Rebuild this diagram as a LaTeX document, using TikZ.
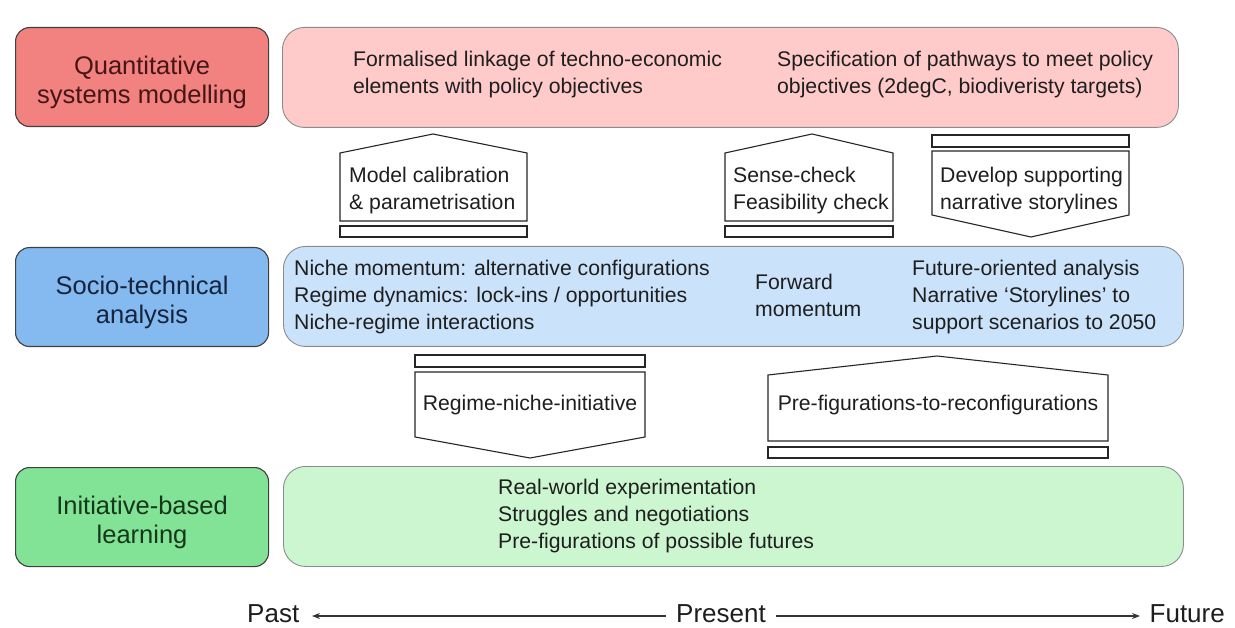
\documentclass[tikz,border=0pt]{standalone}
\usepackage{fontspec}
\setmainfont{Liberation Sans}
\usetikzlibrary{arrows.meta}
\definecolor{qsmDark}{RGB}{242,130,128}
\definecolor{qsmLight}{RGB}{255,202,202}
\definecolor{staDark}{RGB}{132,186,240}
\definecolor{staLight}{RGB}{202,226,250}
\definecolor{iblDark}{RGB}{130,226,150}
\definecolor{iblLight}{RGB}{204,246,208}
\definecolor{qsmText}{RGB}{70,22,22}
\definecolor{staText}{RGB}{22,36,62}
\definecolor{iblText}{RGB}{22,56,26}
\definecolor{bodyText}{RGB}{30,30,30}
\tikzset{
  labelbox/.style={draw=black!75, line width=1.1pt, rounded corners=14pt,
    minimum width=253pt, minimum height=99pt, anchor=north west},
  labeltext/.style={inner sep=0pt, align=center, yshift=-5pt,
    font=\fontsize{25.5}{29}\selectfont},
  widebox/.style={draw=black!45, line width=0.9pt, rounded corners=22pt,
    minimum height=100pt, anchor=north west},
  bodytext/.style={inner sep=0pt, anchor=north west, align=left,
    text=bodyText, font=\fontsize{21.2}{27}\selectfont},
  flowbox/.style={draw=black!85, line width=1.1pt, fill=white},
  timeline/.style={inner sep=0pt, text=bodyText, font=\fontsize{26}{30}\selectfont},
  timearrow/.style={draw=black!80, line width=1.2pt, -{Stealth[length=8pt,width=6pt]}}
}
\begin{document}
\begin{tikzpicture}[x=1pt, y=-1pt]
\path[use as bounding box, fill=white] (0,0) rectangle (1235,628);

% left-hand row labels
\node[labelbox, fill=qsmDark] (qsm) at (15,27) {};
\node[labeltext, text=qsmText] (qsmlabel) at (qsm.center) {Quantitative\\systems modelling};
\node[labelbox, fill=staDark] (sta) at (15,247) {};
\node[labeltext, text=staText] (stalabel) at (sta.center) {Socio-technical\\analysis};
\node[labelbox, fill=iblDark] (ibl) at (15,467) {};
\node[labeltext, text=iblText] (ibllabel) at (ibl.center) {Initiative-based\\learning};

% wide content bands
\node[widebox, fill=qsmLight, minimum width=896pt] (qsmband) at (282,27) {};
\node[widebox, fill=staLight, minimum width=900pt] (staband) at (283,246) {};
\node[widebox, fill=iblLight, minimum width=900pt] (iblband) at (283,466) {};

% modelling band text
\node[bodytext] (qsmA) at (353,47) {\strut Formalised linkage of techno-economic\\\strut elements with policy objectives};
\node[bodytext] (qsmB) at (777,47) {\strut Specification of pathways to meet policy\\\strut objectives (2degC, biodiveristy targets)};

% socio-technical band text
\node[bodytext] (staA) at (294,256) {\strut Niche momentum: alternative configurations\\\strut Regime dynamics: lock-ins / opportunities\\\strut Niche-regime interactions};
\node[bodytext] (staB) at (755,270) {\strut Forward\\\strut momentum};
\node[bodytext] (staC) at (912,256) {\strut Future-oriented analysis\\\strut Narrative `Storylines' to\\\strut support scenarios to 2050};

% learning band text
\node[bodytext] (iblA) at (498,475) {\strut Real-world experimentation\\\strut Struggles and negotiations\\\strut Pre-figurations of possible futures};

% upward exchange: model calibration
\draw[flowbox] (340,221) -- (340,153) -- (433,134) -- (527,153) -- (527,221) -- cycle;
\draw[flowbox] (340,226) rectangle (527,237);
\node[bodytext] (calib) at (349,163) {\strut Model calibration\\\strut \& parametrisation};

% upward exchange: sense-check
\draw[flowbox] (725,221) -- (725,153) -- (812,134) -- (893,153) -- (893,221) -- cycle;
\draw[flowbox] (725,226) rectangle (893,237);
\node[bodytext] (sense) at (733,163) {\strut Sense-check\\\strut Feasibility check};

% downward exchange: storylines
\draw[flowbox] (932,135) rectangle (1129,147);
\draw[flowbox] (932,151) -- (1129,151) -- (1129,215) -- (1031,237) -- (932,215) -- cycle;
\node[bodytext] (story) at (940,163) {\strut Develop supporting\\\strut narrative storylines};

% downward exchange: regime-niche-initiative
\draw[flowbox] (415,355) rectangle (645,367);
\draw[flowbox] (415,372) -- (645,372) -- (645,437) -- (530,458) -- (415,437) -- cycle;
\node[bodytext, anchor=center, align=center] (regime) at (530,405) {\strut Regime-niche-initiative};

% upward exchange: pre-figurations
\draw[flowbox] (768,441) -- (768,375) -- (937,356) -- (1108,375) -- (1108,441) -- cycle;
\draw[flowbox] (768,447) rectangle (1108,458);
\node[bodytext, anchor=center, align=center] (prefig) at (938,405) {\strut Pre-figurations-to-reconfigurations};

% time axis
\node[timeline, anchor=west] (past) at (247,614) {Past};
\node[timeline, anchor=center] (present) at (721,614) {Present};
\node[timeline, anchor=east] (future) at (1225,614) {Future};
\draw[timearrow] (present.west) ++(-10,2) coordinate (pl) (pl) -- (312,616) coordinate (pe);
\draw[timearrow] (present.east) ++(10,2) coordinate (pr) (pr) -- (1140,616) coordinate (fe);
\end{tikzpicture}
\end{document}
